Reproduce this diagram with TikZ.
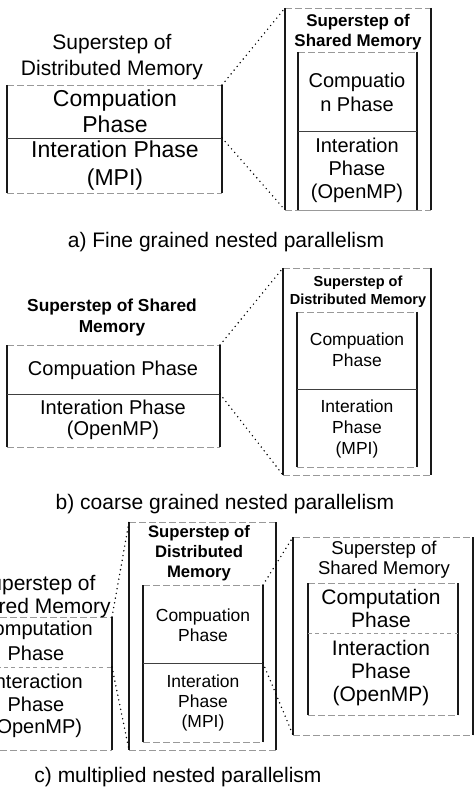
\documentclass[tikz,border=0pt]{standalone}
\usepackage{fontspec}
\setmainfont{Liberation Sans}
\usetikzlibrary{fit}
\tikzset{
  vline/.style={line width=1pt, black!90},
  hline/.style={line width=0.45pt, black!40, dash pattern=on 5pt off 2.5pt},
  midline/.style={line width=0.6pt, black!75},
  middash/.style={line width=0.45pt, black!40, dash pattern=on 3pt off 2.5pt},
  dotline/.style={line width=1.2pt, black, dash pattern=on 0pt off 3.6pt, line cap=round},
  frame/.style={inner sep=0pt, outer sep=0pt},
  txt/.style 2 args={align=center, inner sep=0pt, font=\fontsize{#1}{#2}\selectfont},
  btxt/.style 2 args={align=center, inner sep=0pt, font=\fontsize{#1}{#2}\selectfont\bfseries},
}
\newcommand\sidebox[3]{%
  \node[frame, fit={#2 #3}] (#1) {};
  \draw[hline] (#1.north west) -- (#1.north east);
  \draw[hline] (#1.south west) -- (#1.south east);
  \draw[vline] (#1.north west) -- (#1.south west);
  \draw[vline] (#1.north east) -- (#1.south east);}
\begin{document}
\begin{tikzpicture}[x=0.75pt,y=-0.75pt]
\useasboundingbox (0,0) rectangle (475,787);
\fill[white] (0,0) rectangle (475,787);
\clip (0,0) rectangle (475,787);

% ---------- a) ----------
\sidebox{aL}{(7,85)}{(222,193)}
\coordinate (aLw) at (7,138); \coordinate (aLe) at (222,138);
\draw[midline] (aLw) -- (aLe);
\sidebox{aR}{(285,8)}{(431,210)}
\sidebox{aRi}{(298,52)}{(417,210)}
\coordinate (aRiw) at (298,131); \coordinate (aRie) at (417,131);
\draw[midline] (aRiw) -- (aRie);
\draw[dotline] (aL.north east) -- (aR.north west);
\draw[dotline] (aLe) -- (aR.south west);

\node[txt={15.75pt}{19.5pt}] (aLt) at (112,57) {Superstep of\\Distributed Memory};
\node[txt={17.25pt}{19.5pt}] (aLct) at (115,111) {Compuation\\Phase};
\node[txt={17.25pt}{21pt}] (aLit) at (115,166) {Interation Phase\\(MPI)};
\node[btxt={12.7pt}{15pt}] (aRt) at (358,32) {Superstep of\\Shared Memory};
\node[txt={15pt}{18pt}] (aRct) at (357,92) {Compuatio\\n Phase};
\node[txt={15pt}{17.25pt}] (aRit) at (357,170) {Interation\\Phase\\(OpenMP)};
\node[txt={15.75pt}{18pt}] (capA) at (226,242) {a) Fine grained nested parallelism};

% ---------- b) ----------
\sidebox{bL}{(7,345)}{(220,447)}
\coordinate (bLw) at (7,394); \coordinate (bLe) at (220,394);
\draw[midline] (bLw) -- (bLe);
\sidebox{bR}{(283,268)}{(431,475)}
\sidebox{bRi}{(297,312)}{(417,467)}
\coordinate (bRiw) at (297,389); \coordinate (bRie) at (417,389);
\draw[midline] (bRiw) -- (bRie);
\draw[dotline] (bL.north east) -- (bR.north west);
\draw[dotline] (bLe) -- (bR.south west);

\node[btxt={13pt}{15.75pt}] (bLt) at (112,317.5) {Superstep of Shared\\Memory};
\node[txt={15pt}{15.75pt}] (bLct) at (113,370) {Compuation Phase};
\node[txt={15pt}{15.75pt}] (bLit) at (113,420) {Interation Phase\\(OpenMP)};
\node[btxt={10.9pt}{13.5pt}] (bRt) at (358,292) {Superstep of\\Distributed Memory};
\node[txt={13.1pt}{15.75pt}] (bRct) at (357,350) {Compuation\\Phase};
\node[txt={13.1pt}{16.1pt}] (bRit) at (357,429) {Interation\\Phase\\(MPI)};
\node[txt={15.75pt}{18pt}] (capB) at (225,504) {b) coarse grained nested parallelism};

% ---------- c) ----------
\sidebox{cL}{(-40,617)}{(112,750)}
\coordinate (cLw) at (-40,667); \coordinate (cLe) at (112,667);
\draw[middash] (cLw) -- (cLe);
\sidebox{cM}{(129,522)}{(276,750)}
\sidebox{cMi}{(143,585)}{(263,742)}
\coordinate (cMiw) at (143,663); \coordinate (cMie) at (263,663);
\draw[midline] (cMiw) -- (cMie);
\sidebox{cR}{(293,537)}{(473,735)}
\sidebox{cRi}{(308,583)}{(458,715)}
\coordinate (cRiw) at (308,633); \coordinate (cRie) at (458,633);
\draw[middash] (cRiw) -- (cRie);
\draw[dotline] (cL.north east) -- (cM.north west);
\draw[dotline] (cLe) -- (cM.south west);
\draw[dotline] (cMi.north east) -- (cR.north west);
\draw[dotline] (cMie) -- (cR.south west);

\node[txt={15.75pt}{17.25pt}] (cLt) at (36,596.5) {Superstep of\\Shared Memory};
\node[txt={15pt}{18.75pt}] (cLct) at (36,640.5) {Computation\\Phase};
\node[txt={15pt}{16.9pt}] (cLit) at (36,706) {Interaction\\Phase\\(OpenMP)};
\node[btxt={12.5pt}{15pt}] (cMt) at (199,553) {Superstep of\\Distributed\\Memory};
\node[txt={13.1pt}{15pt}] (cMct) at (203,625) {Compuation\\Phase};
\node[txt={13.1pt}{15pt}] (cMit) at (203,703) {Interation\\Phase\\(MPI)};
\node[txt={13.9pt}{15pt}] (cRt) at (384,560) {Superstep of\\Shared Memory};
\node[txt={15.75pt}{17.25pt}] (cRct) at (381,608.5) {Computation\\Phase};
\node[txt={15.75pt}{17.5pt}] (cRit) at (381,673) {Interaction\\Phase\\(OpenMP)};
\node[txt={15.75pt}{18pt}] (capC) at (178,777) {c) multiplied nested parallelism};
\end{tikzpicture}
\end{document}
